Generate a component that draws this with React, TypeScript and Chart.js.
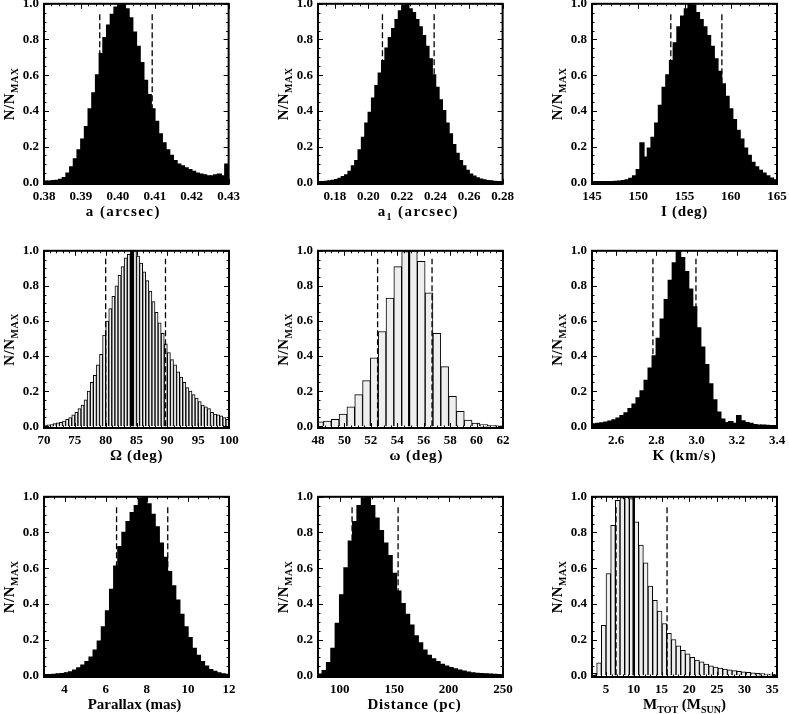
import React, { useEffect, useRef } from "react";
import { Chart, registerables } from "chart.js";

Chart.register(...registerables);

const FONT_FAMILY = '"Liberation Serif", "Times New Roman", serif';

// ---------- shared axis values ----------
const Y_MIN = -0.01;
const Y_MAX = 1.0;
const Y_TICKS = [0, 0.2, 0.4, 0.6, 0.8, 1.0];
const DASH_TOP = 0.955;

// ---------- panel 1 : a (arcsec) ----------
const A_TICKS = [0.38, 0.39, 0.4, 0.41, 0.42, 0.43];
const A_BIN_START = 0.38;
const A_BIN_WIDTH = 0.001;
const A_COUNTS = [
  0.005, 0.005, 0.008, 0.01, 0.015, 0.025, 0.05, 0.085, 0.13, 0.18, 0.24, 0.31,
  0.41, 0.5, 0.6, 0.72, 0.81, 0.88, 0.94, 0.98, 1.0, 1.0, 0.97, 0.92, 0.84, 0.76,
  0.67, 0.57, 0.49, 0.41, 0.34, 0.27, 0.22, 0.18, 0.15, 0.12, 0.1, 0.09, 0.08,
  0.07, 0.06, 0.05, 0.045, 0.04, 0.035, 0.035, 0.04, 0.045, 0.035, 0.1,
];
const A_INTERVAL = [0.3951, 0.4093];

// ---------- panel 2 : a1 (arcsec) ----------
const A1_TICKS = [0.18, 0.2, 0.22, 0.24, 0.26, 0.28];
const A1_BIN_START = 0.17;
const A1_BIN_WIDTH = 0.002;
const A1_COUNTS = [
  0.003, 0.003, 0.004, 0.006, 0.01, 0.014, 0.02, 0.03, 0.04, 0.06, 0.09, 0.12,
  0.18, 0.25, 0.33, 0.39, 0.47, 0.54, 0.61, 0.68, 0.75, 0.81, 0.86, 0.91, 0.96,
  0.99, 1.0, 0.97, 0.95, 0.91, 0.87, 0.82, 0.76, 0.69, 0.6, 0.53, 0.46, 0.4, 0.33,
  0.27, 0.21, 0.16, 0.12, 0.09, 0.065, 0.045, 0.033, 0.024, 0.017, 0.012, 0.008,
  0.006, 0.004, 0.003, 0.002,
];
const A1_INTERVAL = [0.2084, 0.2392];

// ---------- panel 3 : I (deg) ----------
const I_TICKS = [145, 150, 155, 160, 165];
const I_BIN_START = 145;
const I_BIN_WIDTH = 0.4;
const I_COUNTS = [
  0.002, 0.002, 0.002, 0.002, 0.003, 0.003, 0.004, 0.005, 0.008, 0.012, 0.02,
  0.035, 0.07, 0.22, 0.14, 0.19, 0.25, 0.33, 0.43, 0.53, 0.6, 0.68, 0.78, 0.87,
  0.93, 0.97, 1.0, 0.99, 0.95, 0.91, 0.87, 0.82, 0.76, 0.69, 0.62, 0.55, 0.48,
  0.41, 0.35, 0.29, 0.24, 0.19, 0.15, 0.11, 0.085, 0.065, 0.05, 0.035, 0.022,
  0.012,
];
const I_INTERVAL = [153.52, 159.04];

// ---------- panel 4 : Omega (deg) ----------
const BIGOM_TICKS = [70, 75, 80, 85, 90, 95, 100];
const BIGOM_BIN_START = 70;
const BIGOM_BIN_WIDTH = 0.5;
const BIGOM_COUNTS = [
  0.006, 0.008, 0.01, 0.015, 0.02, 0.022, 0.03, 0.04, 0.05, 0.065, 0.08, 0.1,
  0.12, 0.15, 0.2, 0.25, 0.29, 0.35, 0.41, 0.52, 0.6, 0.67, 0.74, 0.8, 0.86, 0.91,
  0.96, 0.98, 1.0, 1.0, 0.97, 0.93, 0.88, 0.83, 0.77, 0.71, 0.65, 0.59, 0.53,
  0.47, 0.42, 0.38, 0.35, 0.31, 0.28, 0.25, 0.22, 0.2, 0.18, 0.16, 0.14, 0.12,
  0.11, 0.1, 0.08, 0.07, 0.065, 0.06, 0.05, 0.04,
];
const BIGOM_INTERVAL = [80.0, 89.7];
const BIGOM_MEDIAN = 84.3;

// ---------- panel 5 : omega (deg) ----------
const SMOM_TICKS = [48, 50, 52, 54, 56, 58, 60, 62];
const SMOM_BIN_START = 47.82;
const SMOM_BIN_WIDTH = 0.592;
const SMOM_COUNTS = [
  0.025, 0.03, 0.04, 0.07, 0.11, 0.18, 0.26, 0.39, 0.54, 0.73, 0.91, 0.995, 1.0,
  0.94, 0.76, 0.53, 0.34, 0.17, 0.085, 0.035, 0.018, 0.01, 0.005, 0.003,
];
const SMOM_INTERVAL = [52.51, 56.63];
const SMOM_MEDIAN = 54.89;

// ---------- panel 6 : K (km/s) ----------
const K_TICKS = [2.6, 2.8, 3.0, 3.2, 3.4];
const K_BIN_START = 2.48;
const K_BIN_WIDTH = 0.02;
const K_COUNTS = [
  0.012, 0.015, 0.018, 0.022, 0.028, 0.035, 0.045, 0.06, 0.075, 0.1, 0.125, 0.16,
  0.2, 0.26, 0.33, 0.4, 0.5, 0.61, 0.72, 0.83, 0.93, 1.0, 0.96, 0.88, 0.78, 0.68,
  0.56, 0.45, 0.35, 0.24, 0.15, 0.08, 0.04, 0.02, 0.025, 0.015, 0.06, 0.03, 0.02,
  0.015, 0.008, 0.006, 0.005, 0.004, 0.003, 0.002,
];
const K_INTERVAL = [2.783, 2.997];

// ---------- panel 7 : Parallax (mas) ----------
const PLX_TICKS = [4, 6, 8, 10, 12];
const PLX_BIN_START = 3;
const PLX_BIN_WIDTH = 0.2;
const PLX_COUNTS = [
  0.003, 0.003, 0.004, 0.006, 0.008, 0.012, 0.018, 0.028, 0.04, 0.055, 0.075, 0.1,
  0.14, 0.19, 0.27, 0.36, 0.48, 0.61, 0.72, 0.8, 0.86, 0.91, 0.95, 0.99, 1.0, 0.96,
  0.9, 0.83, 0.74, 0.66, 0.58, 0.5, 0.42, 0.34, 0.27, 0.21, 0.15, 0.11, 0.075,
  0.05, 0.03, 0.02, 0.012, 0.007, 0.004,
];
const PLX_INTERVAL = [6.53, 9.02];

// ---------- panel 8 : Distance (pc) ----------
const DIST_TICKS = [100, 150, 200, 250];
const DIST_BIN_START = 80;
const DIST_BIN_WIDTH = 4;
const DIST_COUNTS = [
  0.005, 0.025, 0.07, 0.15, 0.29, 0.45, 0.6, 0.75, 0.86, 0.95, 0.99, 1.0, 0.95,
  0.88, 0.81, 0.74, 0.67, 0.57, 0.47, 0.4, 0.34, 0.28, 0.22, 0.18, 0.14, 0.11,
  0.09, 0.075, 0.06, 0.05, 0.042, 0.035, 0.028, 0.022, 0.016, 0.012, 0.01, 0.008,
  0.006, 0.005, 0.004, 0.003, 0.002,
];
const DIST_INTERVAL = [111.3, 153.6];

// ---------- panel 9 : M_TOT (M_SUN) ----------
const MTOT_TICKS = [5, 10, 15, 20, 25, 30, 35];
const MTOT_BIN_START = 2.45;
const MTOT_BIN_WIDTH = 0.843;
const MTOT_COUNTS = [
  0.01, 0.07, 0.28, 0.57, 0.84, 0.98, 0.995, 1.0, 0.99, 0.86, 0.73, 0.63, 0.5,
  0.42, 0.36, 0.29, 0.235, 0.2, 0.165, 0.14, 0.12, 0.1, 0.085, 0.075, 0.062,
  0.053, 0.046, 0.04, 0.034, 0.03, 0.026, 0.022, 0.019, 0.016, 0.013, 0.011,
  0.009, 0.007, 0.006, 0.005,
];
const MTOT_INTERVAL = [6.79, 16.0];
const MTOT_MEDIAN = 9.98;

// ---------- layout ----------
const COL_LEFT = [44, 318, 592];
const PLOT_W = 185;
const ROW_TOP = [3, 250, 496];
const ROW_BOTTOM = [184, 428, 677];
const PAD_L = 44;
const PAD_T = 12;
const PAD_R = 16;
const PAD_B = 44;

type Part = { t: string; sub?: boolean };
type PanelSpec = {
  col: number;
  row: number;
  xMin: number;
  xMax: number;
  xTicks: number[];
  xDec: number;
  xMinorStep: number;
  binStart: number;
  binWidth: number;
  counts: number[];
  outline: boolean;
  interval: number[];
  median?: number;
  medianWidth?: number;
  title: Part[];
  titleDx: number;
  titleSpacing: number;
};

const PANELS: PanelSpec[] = [
  {
    col: 0, row: 0, xMin: 0.38, xMax: 0.43, xTicks: A_TICKS, xDec: 2, xMinorStep: 0.002,
    binStart: A_BIN_START, binWidth: A_BIN_WIDTH, counts: A_COUNTS, outline: false,
    interval: A_INTERVAL, title: [{ t: "a (arcsec)" }], titleDx: -13, titleSpacing: 1.4,
  },
  {
    col: 1, row: 0, xMin: 0.17, xMax: 0.28, xTicks: A1_TICKS, xDec: 2, xMinorStep: 0.005,
    binStart: A1_BIN_START, binWidth: A1_BIN_WIDTH, counts: A1_COUNTS, outline: false,
    interval: A1_INTERVAL, title: [{ t: "a" }, { t: "1", sub: true }, { t: " (arcsec)" }],
    titleDx: 8, titleSpacing: 1.4,
  },
  {
    col: 2, row: 0, xMin: 145, xMax: 165, xTicks: I_TICKS, xDec: 0, xMinorStep: 1,
    binStart: I_BIN_START, binWidth: I_BIN_WIDTH, counts: I_COUNTS, outline: false,
    interval: I_INTERVAL, title: [{ t: "I (deg)" }], titleDx: 0, titleSpacing: 0.7,
  },
  {
    col: 0, row: 1, xMin: 70, xMax: 100, xTicks: BIGOM_TICKS, xDec: 0, xMinorStep: 1,
    binStart: BIGOM_BIN_START, binWidth: BIGOM_BIN_WIDTH, counts: BIGOM_COUNTS, outline: true,
    interval: BIGOM_INTERVAL, median: BIGOM_MEDIAN, medianWidth: 3,
    title: [{ t: "\u03A9 (deg)" }], titleDx: 0, titleSpacing: 0.7,
  },
  {
    col: 1, row: 1, xMin: 48, xMax: 62, xTicks: SMOM_TICKS, xDec: 0, xMinorStep: 0.5,
    binStart: SMOM_BIN_START, binWidth: SMOM_BIN_WIDTH, counts: SMOM_COUNTS, outline: true,
    interval: SMOM_INTERVAL, median: SMOM_MEDIAN, medianWidth: 2,
    title: [{ t: "\u03C9 (deg)" }], titleDx: 6, titleSpacing: 1,
  },
  {
    col: 2, row: 1, xMin: 2.48, xMax: 3.4, xTicks: K_TICKS, xDec: 1, xMinorStep: 0.05,
    binStart: K_BIN_START, binWidth: K_BIN_WIDTH, counts: K_COUNTS, outline: false,
    interval: K_INTERVAL, title: [{ t: "K (km/s)" }], titleDx: 0, titleSpacing: 1,
  },
  {
    col: 0, row: 2, xMin: 3, xMax: 12, xTicks: PLX_TICKS, xDec: 0, xMinorStep: 0.5,
    binStart: PLX_BIN_START, binWidth: PLX_BIN_WIDTH, counts: PLX_COUNTS, outline: false,
    interval: PLX_INTERVAL, title: [{ t: "Parallax (mas)" }], titleDx: -2, titleSpacing: 0,
  },
  {
    col: 1, row: 2, xMin: 80, xMax: 250, xTicks: DIST_TICKS, xDec: 0, xMinorStep: 10,
    binStart: DIST_BIN_START, binWidth: DIST_BIN_WIDTH, counts: DIST_COUNTS, outline: false,
    interval: DIST_INTERVAL, title: [{ t: "Distance (pc)" }], titleDx: 4, titleSpacing: 0.8,
  },
  {
    col: 2, row: 2, xMin: 2.45, xMax: 35.85, xTicks: MTOT_TICKS, xDec: 0, xMinorStep: 1,
    binStart: MTOT_BIN_START, binWidth: MTOT_BIN_WIDTH, counts: MTOT_COUNTS, outline: true,
    interval: MTOT_INTERVAL, median: MTOT_MEDIAN, medianWidth: 2.5,
    title: [{ t: "M" }, { t: "TOT", sub: true }, { t: " (M" }, { t: "SUN", sub: true }, { t: ")" }],
    titleDx: 0, titleSpacing: 0,
  },
];

const Y_TITLE: Part[] = [{ t: "N/N" }, { t: "MAX", sub: true }];

function stepValues(min: number, max: number, step: number): number[] {
  const out: number[] = [];
  const k0 = Math.ceil(min / step - 1e-9);
  for (let k = k0; k * step <= max + 1e-9; k++) out.push(k * step);
  return out;
}

function drawParts(
  ctx: CanvasRenderingContext2D,
  parts: Part[],
  cx: number,
  cy: number,
  size: number,
  subSize: number,
  spacing: number
) {
  const mainFont = `bold ${size}px ${FONT_FAMILY}`;
  const subFont = `bold ${subSize}px ${FONT_FAMILY}`;
  const c = ctx as any;
  c.letterSpacing = "0px";
  let total = 0;
  const widths = parts.map((pt) => {
    ctx.font = pt.sub ? subFont : mainFont;
    const w = ctx.measureText(pt.t).width + spacing * pt.t.length;
    total += w;
    return w;
  });
  c.letterSpacing = `${spacing}px`;
  let x = cx - total / 2;
  const baseY = cy + size * 0.33;
  ctx.textAlign = "left";
  ctx.textBaseline = "alphabetic";
  parts.forEach((pt, i) => {
    ctx.font = pt.sub ? subFont : mainFont;
    ctx.fillText(pt.t, x, pt.sub ? baseY + subSize * 0.4 : baseY);
    x += widths[i];
  });
  c.letterSpacing = "0px";
}

function makeFramePlugin(p: PanelSpec) {
  return {
    id: "idlFrame",
    afterDraw(chart: any) {
      const { ctx, chartArea: a, scales } = chart;
      const xs = scales.x;
      const ys = scales.y;
      ctx.save();
      ctx.strokeStyle = "#000";
      ctx.fillStyle = "#000";
      ctx.lineWidth = 1;
      const seg = (x1: number, y1: number, x2: number, y2: number) => {
        ctx.beginPath();
        ctx.moveTo(x1, y1);
        ctx.lineTo(x2, y2);
        ctx.stroke();
      };
      const xTick = (v: number, len: number) => {
        const px = Math.round(xs.getPixelForValue(v)) + 0.5;
        seg(px, a.bottom, px, a.bottom - len);
        seg(px, a.top, px, a.top + len);
      };
      const yTick = (v: number, len: number) => {
        const py = Math.round(ys.getPixelForValue(v)) + 0.5;
        seg(a.left, py, a.left + len, py);
        seg(a.right, py, a.right - len, py);
      };
      stepValues(p.xMin, p.xMax, p.xMinorStep).forEach((v) => xTick(v, 2.5));
      p.xTicks.forEach((v) => xTick(v, 5));
      stepValues(Y_MIN, Y_MAX, 0.05).forEach((v) => yTick(v, 2.5));
      Y_TICKS.forEach((v) => yTick(v, 5));
      ctx.lineWidth = 2;
      ctx.strokeRect(a.left, a.top, a.right - a.left, a.bottom - a.top);

      // x title
      drawParts(ctx, p.title, (a.left + a.right) / 2 + p.titleDx, a.bottom + 27, 15, 10, p.titleSpacing);
      // y title
      ctx.save();
      ctx.translate(a.left - 35, (a.top + a.bottom) / 2);
      ctx.rotate(-Math.PI / 2);
      drawParts(ctx, Y_TITLE, 0, 0, 15, 10, 0.5);
      ctx.restore();
      ctx.restore();
    },
  };
}

function buildChart(canvas: HTMLCanvasElement, p: PanelSpec) {
  const bars = p.counts.map((v, i) => ({ x: p.binStart + p.binWidth * (i + 0.5), y: v }));
  const datasets: any[] = [];
  p.interval.forEach((v) =>
    datasets.push({
      type: "line",
      data: [{ x: v, y: 0 }, { x: v, y: DASH_TOP }],
      borderColor: "#000",
      borderWidth: 1.3,
      borderDash: [6, 3],
      pointRadius: 0,
      order: 0,
      clip: 0,
    })
  );
  if (p.median !== undefined) {
    datasets.push({
      type: "line",
      data: [{ x: p.median, y: 0 }, { x: p.median, y: Y_MAX }],
      borderColor: "#000",
      borderWidth: p.medianWidth,
      pointRadius: 0,
      order: 0,
      clip: 0,
    });
  }
  datasets.push({
    type: "bar",
    data: bars,
    backgroundColor: p.outline ? "#eeeeee" : "#000000",
    borderColor: "#000000",
    borderWidth: p.outline ? 1 : 0,
    inflateAmount: p.outline ? "auto" : 0.8,
    barPercentage: 1,
    categoryPercentage: 1,
    order: 1,
    clip: 0,
  });

  const tickFont = { family: FONT_FAMILY, size: 13, weight: "bold" as const };

  return new Chart(canvas, {
    type: "bar",
    data: { datasets },
    options: {
      animation: false,
      responsive: false,
      devicePixelRatio: 1,
      events: [],
      layout: { padding: { left: 0, top: PAD_T, right: PAD_R, bottom: 0 } },
      plugins: { legend: { display: false }, tooltip: { enabled: false }, title: { display: false } },
      scales: {
        x: {
          type: "linear",
          min: p.xMin,
          max: p.xMax,
          offset: false,
          grid: { display: false, drawTicks: false, offset: false },
          border: { display: false },
          ticks: {
            font: tickFont,
            color: "#000",
            padding: 5,
            maxRotation: 0,
            minRotation: 0,
            autoSkip: false,
            callback: (v: any) => Number(v).toFixed(p.xDec),
          },
          afterBuildTicks: (s: any) => {
            s.ticks = p.xTicks.map((v) => ({ value: v }));
          },
          afterFit: (s: any) => {
            s.height = PAD_B;
          },
        },
        y: {
          type: "linear",
          min: Y_MIN,
          max: Y_MAX,
          grid: { display: false, drawTicks: false },
          border: { display: false },
          ticks: {
            font: tickFont,
            color: "#000",
            padding: 5,
            autoSkip: false,
            callback: (v: any) => Number(v).toFixed(1),
          },
          afterBuildTicks: (s: any) => {
            s.ticks = Y_TICKS.map((v) => ({ value: v }));
          },
          afterFit: (s: any) => {
            s.width = PAD_L;
          },
        },
      },
    } as any,
    plugins: [makeFramePlugin(p)],
  });
}

function HistPanel({ p }: { p: PanelSpec }) {
  const ref = useRef<HTMLCanvasElement>(null);
  const plotH = ROW_BOTTOM[p.row] - ROW_TOP[p.row];
  const w = PAD_L + PLOT_W + PAD_R;
  const h = PAD_T + plotH + PAD_B;
  useEffect(() => {
    const chart = buildChart(ref.current as HTMLCanvasElement, p);
    return () => chart.destroy();
  }, [p]);
  return (
    <canvas
      ref={ref}
      width={w}
      height={h}
      style={{
        position: "absolute",
        left: COL_LEFT[p.col] - PAD_L,
        top: ROW_TOP[p.row] - PAD_T,
        width: w,
        height: h,
      }}
    />
  );
}

export default function App() {
  return (
    <div
      style={{
        position: "absolute",
        left: 0,
        top: 0,
        width: 789,
        height: 714,
        background: "#ffffff",
        overflow: "hidden",
      }}
    >
      {PANELS.map((p, i) => (
        <HistPanel key={i} p={p} />
      ))}
    </div>
  );
}
